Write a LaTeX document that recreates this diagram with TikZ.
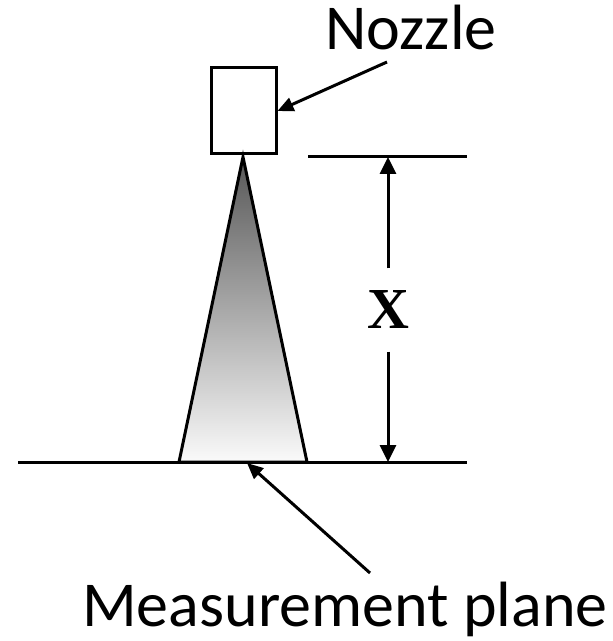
\documentclass[tikz,border=0pt]{standalone}
\usepackage{fontspec}
\setmainfont{Carlito}
\newfontfamily\xserif{Liberation Serif}
\usetikzlibrary{arrows.meta, positioning}

\begin{document}
\begin{tikzpicture}[x=0.5pt, y=-0.5pt, line width=1.5pt,
    pointer/.style={-{Triangle[length=8pt, width=7pt]}},
    dimarrow/.style={-{Triangle[length=8.5pt, width=8pt]}},
    label/.style={inner sep=0pt, anchor=base, font=\fontsize{32}{36}\selectfont}]
    \useasboundingbox (0,0) rectangle (612,641);

    % spray cone below the nozzle
    \draw[top color=black!66, bottom color=black!2, shading angle=0]
        (243,157) -- (307,462) -- (179,462) -- cycle;

    \node[draw, minimum width=32.5pt, minimum height=43pt, inner sep=0pt] (nozzle) at (243.5,111) {};

    \coordinate (planeL) at (18,462);
    \coordinate (planeR) at (467,462);
    \coordinate (refL) at (308,157);
    \coordinate (refR) at (467,157);
    \coordinate (dimtop) at (388,157);
    \coordinate (dimbot) at (388,462);
    \draw (planeL) -- (planeR);
    \draw (refL) -- (refR);

    \node[inner sep=0pt, minimum height=40pt, font=\xserif\bfseries\fontsize{29}{32}\selectfont] (xlab) at (388,310) {X};
    \draw[dimarrow] (xlab) -- (dimtop);
    \draw[dimarrow] (xlab) -- (dimbot);

    \node[label] (nozzlelab) at (411,50) {Nozzle};
    \coordinate (nozzletail) at (387,62);
    \draw[pointer] (nozzletail) -- (nozzle.east);

    \node[label] (planelab) at (345,626) {Measurement plane};
    \coordinate (planetail) at (370,573);
    \coordinate (planetip) at (247,463);
    \draw[pointer] (planetail) -- (planetip);
\end{tikzpicture}
\end{document}
